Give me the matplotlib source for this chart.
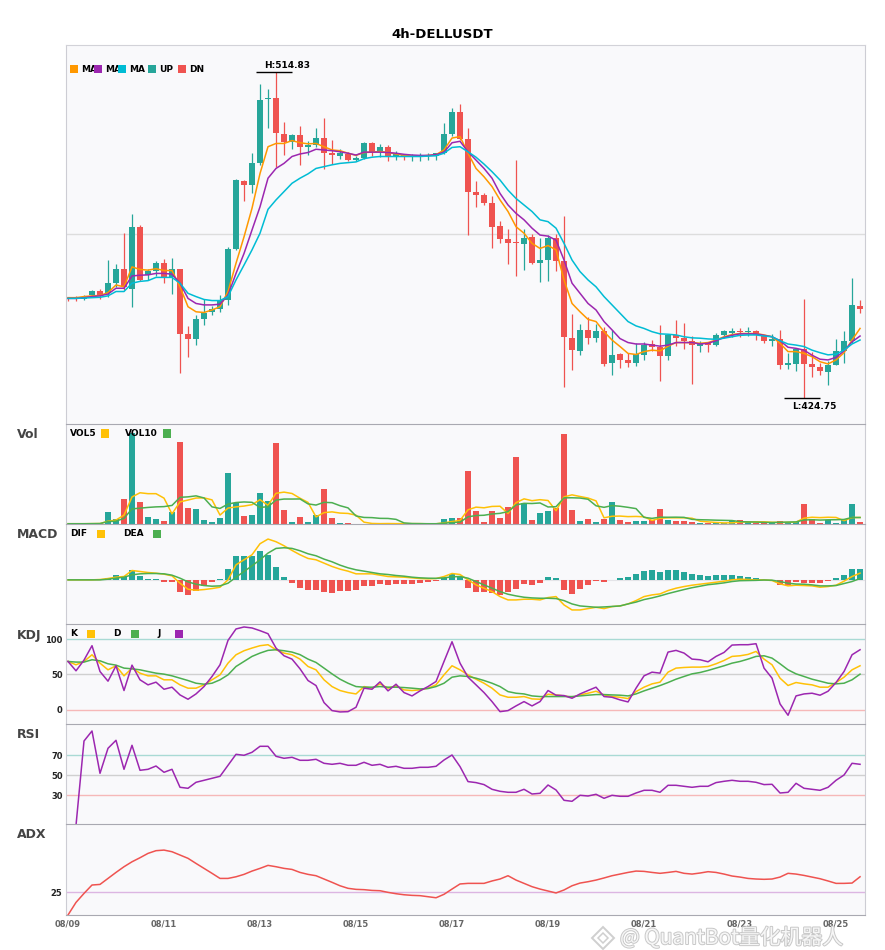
import numpy as np
import matplotlib
matplotlib.use("Agg")
import matplotlib.pyplot as plt
import matplotlib.patheffects as pe
from matplotlib.patches import Rectangle, Polygon
from matplotlib.transforms import Bbox

plt.rcParams['font.family'] = ['DejaVu Sans', 'Noto Sans CJK SC']

# ---- values (4h candles, 08/09 - 08/25) ----
date_labels = ['08/09', '08/11', '08/13', '08/15', '08/17', '08/19', '08/21', '08/23', '08/25']
date_pos = [0, 12, 24, 36, 48, 60, 72, 84, 96]

opens = [452.3, 452.3, 452.1, 453.0, 454.3, 453.6, 456.5, 460.2, 454.9, 472.0,
         458.6, 459.9, 461.9, 458.2, 460.2, 442.4, 441.1, 446.6, 448.4, 449.2,
         451.8, 465.9, 484.7, 483.6, 489.7, 507.2, 507.6, 497.6, 495.4, 497.3,
         494.1, 494.7, 496.5, 492.5, 491.5, 492.1, 490.4, 491.0, 495.2, 492.6,
         493.9, 491.4, 491.7, 491.2, 491.2, 491.4, 491.5, 492.3, 497.6, 503.7,
         496.1, 481.6, 480.9, 478.5, 472.2, 468.5, 467.6, 467.2, 469.1, 462.1,
         462.8, 468.9, 462.4, 441.3, 437.8, 443.6, 441.3, 443.1, 434.4, 436.8,
         435.2, 434.4, 436.6, 439.6, 438.9, 436.3, 442.0, 441.3, 440.3, 439.0,
         439.8, 439.2, 442.0, 442.7, 443.3, 442.9, 443.3, 442.0, 440.5, 441.1,
         433.9, 434.1, 438.1, 434.1, 433.3, 431.9, 433.9, 437.6, 440.5, 450.1]
highs = [452.7, 452.9, 453.0, 454.5, 454.9, 462.8, 461.7, 470.2, 475.5, 472.4,
         460.2, 462.4, 463.0, 463.3, 460.4, 444.6, 447.7, 452.1, 450.1, 453.0,
         466.5, 485.3, 484.9, 492.5, 511.4, 510.1, 514.83, 500.9, 497.6, 499.8,
         495.6, 499.3, 502.0, 496.0, 493.4, 492.6, 491.5, 495.4, 495.3, 494.9,
         494.5, 493.0, 492.1, 492.1, 492.3, 492.3, 492.5, 500.6, 504.8, 505.9,
         499.3, 484.5, 481.2, 480.5, 473.5, 471.3, 490.4, 471.5, 470.0, 468.9,
         469.6, 470.0, 475.0, 447.9, 445.1, 447.1, 445.1, 444.4, 443.5, 437.2,
         437.0, 439.8, 440.1, 440.7, 444.8, 442.4, 446.2, 445.5, 441.8, 440.5,
         440.1, 442.7, 443.6, 444.0, 444.0, 444.2, 443.5, 442.2, 442.5, 443.5,
         437.0, 438.3, 451.9, 437.4, 434.3, 435.0, 440.9, 443.3, 457.8, 451.8]
lows = [451.6, 451.6, 451.8, 452.5, 451.9, 452.5, 455.4, 454.5, 449.7, 457.1,
        457.3, 458.4, 456.5, 453.4, 431.7, 436.1, 439.4, 444.8, 447.5, 448.4,
        450.3, 465.6, 479.0, 481.2, 489.1, 499.3, 488.6, 491.9, 493.4, 489.1,
        491.9, 494.1, 487.9, 489.3, 490.8, 490.1, 490.1, 490.8, 491.4, 491.2,
        490.1, 490.4, 490.3, 490.1, 490.1, 490.4, 490.3, 492.1, 497.1, 496.0,
        469.8, 477.5, 478.1, 466.1, 467.6, 461.7, 458.4, 460.0, 461.7, 456.7,
        457.1, 459.9, 427.8, 432.4, 436.6, 439.6, 440.1, 433.5, 431.1, 433.1,
        433.3, 433.5, 435.2, 437.8, 429.5, 435.2, 439.0, 438.3, 428.5, 437.4,
        437.4, 439.0, 441.6, 441.6, 441.4, 441.8, 440.7, 439.8, 439.0, 432.8,
        432.8, 432.2, 424.75, 430.6, 430.9, 428.4, 433.7, 434.3, 439.8, 448.3]
closes = [452.1, 452.1, 452.7, 454.3, 453.0, 456.4, 460.2, 455.4, 472.0, 457.3,
          459.9, 461.9, 458.2, 460.2, 442.5, 441.1, 446.6, 448.3, 449.4, 451.8,
          465.9, 484.9, 483.6, 489.7, 507.0, 507.6, 497.8, 495.4, 497.3, 494.1,
          494.5, 496.5, 492.5, 491.7, 492.5, 490.4, 491.0, 495.2, 492.6, 493.9,
          491.4, 492.1, 491.2, 491.5, 491.5, 491.9, 492.3, 497.6, 503.7, 496.3,
          481.6, 480.9, 478.6, 472.0, 468.7, 467.6, 467.4, 468.9, 462.1, 462.8,
          468.9, 462.6, 441.4, 437.9, 443.6, 441.3, 443.1, 434.1, 436.5, 435.2,
          434.4, 436.8, 439.2, 438.9, 436.3, 442.2, 441.3, 440.5, 439.2, 439.6,
          439.4, 442.0, 443.3, 443.1, 442.9, 443.3, 442.0, 440.5, 440.9, 433.9,
          434.3, 438.1, 434.1, 433.3, 432.2, 433.9, 437.6, 440.5, 450.3, 449.4]

ma5 = [452.4, 452.4, 452.7, 452.9, 453.0, 453.8, 455.9, 455.4, 460.9, 460.2,
       460.0, 460.4, 459.9, 459.9, 455.4, 449.9, 448.5, 448.3, 449.0, 449.9,
       454.1, 461.9, 469.2, 477.1, 486.7, 494.1, 495.0, 495.0, 495.8, 495.2,
       494.9, 495.0, 494.1, 493.2, 493.0, 492.3, 491.7, 492.5, 492.6, 492.8,
       492.5, 492.1, 491.7, 491.5, 491.5, 491.7, 491.9, 493.2, 496.5, 496.9,
       492.3, 488.1, 485.8, 483.1, 479.4, 476.2, 472.0, 470.2, 467.4, 466.0,
       466.8, 465.6, 457.3, 450.8, 448.5, 446.4, 445.8, 443.0, 440.7, 438.9,
       437.0, 436.7, 437.5, 437.9, 437.7, 439.0, 440.0, 440.0, 440.0, 439.8,
       440.0, 440.7, 441.6, 442.2, 442.5, 442.5, 442.5, 442.1, 441.6, 439.8,
       437.5, 437.5, 437.0, 436.1, 434.7, 434.1, 435.2, 437.2, 440.7, 443.9]
ma7 = [452.2, 452.2, 452.4, 452.7, 452.9, 453.4, 455.0, 455.0, 458.4, 458.6,
       458.7, 459.1, 459.1, 458.9, 456.4, 452.2, 450.8, 450.4, 450.4, 450.6,
       453.1, 459.1, 464.6, 471.1, 477.5, 485.4, 488.1, 489.5, 491.4, 492.1,
       492.5, 493.4, 493.2, 493.0, 492.7, 492.3, 491.8, 492.6, 492.6, 492.6,
       492.5, 492.3, 492.0, 491.8, 491.7, 491.7, 491.9, 492.6, 495.2, 495.6,
       492.7, 490.4, 488.1, 485.4, 481.2, 478.0, 475.7, 473.9, 471.6, 469.7,
       469.4, 468.3, 462.8, 456.4, 453.6, 450.8, 449.0, 445.8, 443.5, 441.1,
       440.0, 439.6, 439.6, 439.3, 439.0, 439.3, 440.0, 440.0, 440.0, 439.6,
       439.8, 440.5, 441.4, 442.0, 442.4, 442.4, 442.4, 442.0, 441.6, 440.5,
       438.7, 438.4, 437.9, 436.5, 435.4, 435.2, 435.9, 437.7, 440.2, 441.8]
ma10 = [452.2, 452.2, 452.3, 452.4, 452.5, 452.9, 454.1, 454.1, 456.4, 456.9,
        457.1, 458.0, 458.0, 458.0, 456.4, 453.6, 452.7, 451.9, 451.6, 451.6,
        452.7, 457.3, 461.4, 465.6, 470.2, 476.8, 479.4, 481.7, 484.0, 485.4,
        486.6, 488.1, 488.6, 489.1, 489.5, 489.7, 489.9, 490.8, 491.2, 491.4,
        491.4, 491.4, 491.4, 491.4, 491.4, 491.5, 491.6, 492.3, 493.9, 494.1,
        492.7, 491.2, 489.3, 487.2, 484.9, 482.1, 479.8, 478.0, 476.2, 473.9,
        473.4, 471.6, 467.4, 462.8, 459.6, 457.3, 455.4, 452.7, 450.4, 448.1,
        445.8, 444.6, 443.9, 443.0, 442.4, 442.3, 442.1, 441.6, 441.3, 441.2,
        441.0, 440.9, 441.2, 441.6, 442.0, 442.1, 442.1, 441.8, 441.6, 440.5,
        439.6, 439.3, 438.9, 437.9, 437.2, 436.6, 436.8, 437.9, 439.6, 440.7]

volumes = [0.3, 0.2, 0.4, 0.5, 1.1, 13.5, 5.9, 27.8, 100.0, 24.5,
           8.1, 5.9, 3.7, 13.5, 90.4, 17.9, 16.8, 4.8, 2.6, 7.0,
           56.4, 23.1, 9.2, 10.2, 34.4, 25.6, 89.3, 15.7, 2.6, 8.1,
           2.6, 10.2, 38.8, 7.0, 1.5, 0.7, 0.4, 0.4, 0.2, 0.2,
           1.1, 0.2, 0.2, 0.2, 0.2, 0.2, 0.2, 5.9, 7.0, 6.2,
           58.6, 14.6, 2.6, 14.6, 7.0, 19.0, 73.9, 23.4, 4.8, 12.4,
           14.6, 17.9, 99.2, 15.7, 3.7, 5.9, 2.6, 5.9, 24.5, 4.8,
           2.6, 3.7, 3.7, 4.8, 16.8, 4.8, 3.7, 3.7, 2.6, 0.7,
           0.7, 0.7, 1.1, 3.3, 4.8, 1.8, 1.1, 1.1, 0.7, 3.7,
           2.6, 2.6, 22.3, 5.9, 1.5, 4.8, 1.5, 4.8, 22.3, 2.6]
vol5 = [0.3, 0.3, 0.3, 0.4, 0.5, 3.1, 4.3, 9.8, 29.7, 34.3,
        33.3, 33.3, 28.4, 11.1, 24.3, 26.3, 28.5, 28.7, 26.5, 9.8,
        17.5, 18.8, 19.7, 21.2, 26.7, 20.5, 33.7, 35.0, 33.5, 28.3,
        23.7, 7.8, 12.5, 13.3, 12.0, 11.6, 9.7, 2.0, 0.6, 0.4,
        0.5, 0.4, 0.4, 0.4, 0.4, 0.2, 0.2, 1.3, 2.7, 3.9,
        15.6, 18.5, 17.8, 19.3, 19.5, 11.6, 23.4, 27.6, 25.6, 26.7,
        25.8, 14.6, 29.8, 32.0, 30.2, 28.5, 25.4, 6.8, 8.5, 8.7,
        8.1, 8.3, 7.9, 3.9, 6.3, 6.8, 6.8, 6.8, 6.3, 3.1,
        2.3, 1.7, 1.2, 1.3, 2.1, 2.3, 2.4, 2.4, 1.9, 1.7,
        1.8, 2.1, 6.4, 7.4, 7.0, 7.4, 7.2, 3.7, 7.0, 7.2]
vol10 = [0.3, 0.3, 0.3, 0.4, 0.5, 2.7, 3.1, 6.2, 16.6, 17.4,
         18.2, 18.8, 19.1, 20.4, 29.3, 29.8, 30.9, 28.6, 18.8, 17.1,
         21.9, 23.6, 24.2, 23.8, 18.2, 19.0, 26.3, 27.4, 27.4, 27.5,
         22.1, 20.8, 23.8, 23.4, 20.1, 17.7, 8.8, 7.2, 7.0, 6.2,
         6.1, 5.1, 1.2, 0.5, 0.4, 0.3, 0.3, 0.9, 1.5, 2.1,
         7.9, 9.3, 9.6, 11.0, 11.7, 13.6, 20.9, 22.7, 22.5, 23.1,
         18.7, 19.0, 28.7, 28.8, 28.5, 27.2, 20.0, 18.3, 20.2, 19.5,
         18.3, 16.9, 7.3, 6.2, 7.5, 7.4, 7.5, 7.3, 5.1, 4.7,
         4.5, 4.2, 4.0, 3.8, 2.6, 2.3, 2.1, 1.8, 1.6, 1.9,
         2.1, 2.3, 4.4, 4.7, 4.3, 4.6, 4.7, 5.0, 7.2, 7.1]

dif = [0.0, 0.0, 0.0, 0.0, 0.1, 0.4, 0.8, 1.0, 2.8, 2.5,
       2.2, 2.0, 1.7, 1.2, -1.0, -2.8, -3.1, -2.9, -2.6, -2.2,
       0.0, 4.5, 6.0, 7.5, 10.8, 12.2, 11.4, 10.2, 8.8, 7.5,
       6.4, 6.0, 5.0, 4.0, 3.2, 2.6, 1.8, 1.8, 1.8, 1.4,
       1.0, 0.9, 0.8, 0.6, 0.4, 0.3, 0.4, 1.0, 1.9, 1.6,
       0.0, -1.5, -2.5, -3.5, -5.0, -6.0, -6.0, -5.8, -5.8, -6.0,
       -5.3, -5.0, -7.5, -9.0, -9.0, -8.6, -8.2, -8.6, -8.0, -7.8,
       -7.2, -6.2, -5.0, -4.5, -4.2, -3.2, -2.5, -2.0, -1.6, -1.3,
       -1.0, -0.7, -0.4, 0.0, 0.2, 0.1, 0.0, 0.0, -0.2, -1.2,
       -1.8, -1.6, -1.7, -1.8, -2.2, -2.0, -1.6, -0.4, 1.0, 2.0]
dea = [0.0, 0.0, 0.0, 0.0, 0.0, 0.2, 0.5, 0.8, 1.5, 1.8,
       1.9, 1.9, 1.8, 1.4, 0.5, -0.6, -1.3, -1.7, -1.9, -1.8,
       -1.0, 0.8, 2.5, 4.2, 6.0, 8.0, 9.4, 9.6, 9.4, 8.7,
       7.8, 7.2, 6.2, 5.4, 4.4, 3.6, 3.0, 2.6, 2.2, 1.8,
       1.6, 1.3, 1.1, 0.8, 0.6, 0.5, 0.45, 0.6, 0.9, 1.0,
       0.5, -0.5, -1.5, -2.5, -3.5, -4.3, -4.8, -5.2, -5.4, -5.5,
       -5.5, -5.6, -6.2, -7.2, -7.8, -8.0, -8.2, -8.1, -7.95, -7.8,
       -7.2, -6.65, -5.9, -5.4, -4.8, -4.1, -3.5, -2.9, -2.35, -1.9,
       -1.45, -1.2, -0.9, -0.5, -0.25, -0.2, -0.15, -0.05, -0.1, -0.5,
       -1.0, -1.25, -1.3, -1.5, -1.8, -1.8, -1.7, -1.1, -0.5, 0.4]
macd_hist = [0.0, 0.0, 0.0, 0.0, 0.0, 0.6, 1.5, 1.0, 3.0, 1.3,
             0.3, 0.3, -0.6, -0.6, -3.6, -4.4, -3.2, -1.8, -0.6, 0.3,
             3.3, 7.2, 7.2, 7.2, 8.7, 7.5, 3.9, 0.9, -0.8, -2.3,
             -3.0, -3.0, -3.6, -3.9, -3.3, -3.3, -3.0, -1.8, -1.8, -1.2,
             -1.5, -1.2, -1.2, -1.2, -0.8, -0.6, -0.3, 0.6, 1.8, 1.3,
             -2.3, -3.5, -3.6, -4.0, -4.4, -3.5, -2.6, -1.2, -1.4, -0.8,
             0.9, 0.6, -2.9, -4.1, -2.6, -1.4, -0.2, -0.5, 0.1, 0.6,
             0.9, 1.8, 2.7, 3.0, 2.4, 3.0, 3.0, 2.4, 1.8, 1.5,
             1.2, 1.5, 1.5, 1.5, 1.2, 0.9, 0.6, 0.1, -0.2, -1.4,
             -1.5, -0.6, -0.9, -0.9, -0.8, -0.3, 0.7, 1.5, 3.3, 3.3]

k_line = [68.4, 63.7, 68.4, 77.8, 66.0, 56.6, 62.3, 48.1, 59.0, 51.9,
          48.1, 48.1, 42.5, 42.5, 35.4, 30.7, 30.7, 35.4, 42.5, 49.5,
          66.0, 77.8, 83.5, 87.3, 90.6, 92.0, 84.9, 80.2, 77.8, 71.7,
          61.3, 56.6, 42.5, 33.0, 27.4, 24.5, 22.6, 33.0, 30.7, 36.8,
          30.7, 34.0, 28.3, 27.4, 28.3, 30.7, 35.4, 49.5, 62.3, 56.6,
          49.5, 43.4, 37.7, 30.7, 21.2, 17.9, 17.9, 18.9, 15.6, 15.1,
          22.2, 21.2, 19.8, 17.9, 21.2, 23.6, 26.4, 21.2, 18.9, 17.9,
          16.0, 25.9, 32.1, 36.8, 39.2, 53.3, 59.0, 59.9, 60.4, 60.4,
          61.3, 65.1, 69.8, 75.5, 76.4, 78.3, 82.5, 71.7, 63.7, 44.8,
          34.5, 38.7, 36.8, 35.4, 32.1, 32.1, 38.7, 46.2, 56.6, 62.3]
d_line = [68.4, 67.5, 67.5, 70.8, 69.3, 65.1, 63.2, 59.0, 58.0, 56.6,
          54.2, 51.9, 50.5, 48.1, 44.8, 41.5, 37.7, 36.3, 37.7, 42.5,
          49.5, 61.3, 68.4, 75.5, 80.2, 84.0, 84.9, 83.5, 81.6, 78.0,
          71.7, 67.0, 59.0, 50.9, 43.4, 37.7, 33.0, 32.1, 32.1, 33.0,
          32.1, 32.1, 31.6, 30.7, 29.7, 30.2, 33.0, 37.7, 46.2, 48.1,
          47.2, 44.8, 41.5, 37.7, 33.0, 25.9, 23.6, 22.6, 19.8, 18.9,
          18.9, 18.9, 18.9, 18.9, 19.8, 20.8, 21.7, 21.7, 21.2, 20.8,
          19.8, 22.6, 26.9, 30.7, 34.4, 38.7, 43.4, 47.2, 50.9, 52.8,
          55.7, 59.0, 62.3, 66.0, 68.4, 71.7, 75.5, 76.4, 73.1, 65.1,
          56.6, 50.9, 47.2, 43.4, 40.6, 37.7, 36.8, 37.7, 42.5, 50.5]
j_line = [68.4, 55.2, 70.3, 90.6, 54.2, 40.6, 62.3, 27.4, 63.2, 42.5,
          35.4, 39.2, 29.2, 32.1, 21.2, 15.1, 22.6, 33.0, 47.2, 63.7,
          98.1, 114.2, 117.0, 115.6, 111.8, 107.5, 87.3, 76.4, 71.7, 58.0,
          41.5, 34.4, 10.4, -0.9, -2.8, -2.4, 3.8, 30.7, 29.2, 39.6,
          26.9, 36.3, 24.5, 19.8, 26.9, 33.0, 40.1, 68.4, 96.2, 66.0,
          46.2, 35.4, 24.5, 11.8, -2.4, -0.9, 5.7, 11.8, 5.7, 11.8,
          27.4, 20.8, 20.3, 16.5, 22.6, 27.4, 32.1, 18.9, 17.9, 14.2,
          11.3, 30.7, 48.1, 53.3, 51.9, 81.6, 84.0, 80.2, 71.7, 70.8,
          67.9, 75.5, 81.1, 91.5, 92.0, 92.0, 93.4, 59.0, 44.8, 8.5,
          -7.5, 19.8, 22.6, 23.6, 20.8, 26.4, 38.7, 54.2, 77.8, 84.9]

rsi = [np.nan, 0.0, 84.3, 94.3, 52.0, 77.0, 85.0, 56.0, 80.0, 55.0,
       56.0, 59.3, 53.0, 56.0, 38.0, 37.0, 43.0, 45.0, 47.0, 49.0,
       60.0, 71.0, 70.0, 73.0, 79.0, 79.0, 69.0, 67.0, 68.0, 65.0,
       65.0, 66.0, 62.0, 61.0, 62.0, 60.0, 60.0, 63.0, 60.0, 61.0,
       58.0, 59.0, 57.0, 57.0, 58.0, 58.0, 59.0, 65.3, 70.3, 58.7,
       43.7, 42.7, 40.7, 36.0, 34.0, 33.0, 33.0, 36.0, 31.3, 32.0,
       40.3, 35.3, 25.0, 24.0, 30.0, 29.3, 31.0, 27.0, 30.0, 29.0,
       29.0, 32.3, 35.0, 35.0, 33.0, 40.0, 40.0, 39.0, 38.0, 39.0,
       39.0, 42.7, 44.0, 45.0, 44.0, 44.0, 43.0, 40.7, 41.0, 32.3,
       33.0, 42.0, 37.0, 36.0, 35.0, 38.0, 45.0, 50.3, 62.0, 61.0]

adx = [9.9, 18.3, 24.3, 29.9, 30.3, 34.3, 38.3, 42.1, 45.4, 48.1,
       51.0, 52.8, 53.2, 52.1, 49.9, 47.7, 44.3, 41.0, 37.7, 34.3,
       34.3, 35.4, 37.0, 39.2, 41.0, 43.0, 42.1, 41.0, 40.3, 38.3,
       37.0, 36.1, 33.9, 31.7, 29.4, 27.7, 27.0, 26.8, 26.3, 26.1,
       25.0, 24.1, 23.4, 23.0, 22.8, 22.1, 21.4, 23.7, 27.2, 30.6,
       31.0, 31.0, 31.0, 32.6, 33.9, 36.1, 33.2, 31.0, 28.8, 27.2,
       25.9, 24.6, 26.6, 29.4, 31.2, 32.1, 33.2, 34.6, 36.1, 37.2,
       38.3, 39.2, 39.0, 38.3, 37.7, 38.3, 39.0, 37.7, 37.2, 37.9,
       38.8, 38.3, 37.2, 35.9, 35.2, 34.3, 33.9, 33.7, 33.9, 35.2,
       37.7, 37.2, 36.3, 35.2, 34.1, 32.6, 31.0, 31.0, 31.2, 35.4]

UP = '#26a69a'
DN = '#ef5350'
ORANGE = '#ff9800'
PURPLE = '#9c27b0'
CYAN = '#00bcd4'
AMBER = '#ffc107'
GREEN = '#4caf50'

W, H = 885, 950
fig = plt.figure(figsize=(W / 100, H / 100), dpi=100)
fig.patch.set_facecolor('white')

x = np.arange(len(closes))
o = np.array(opens)
c = np.array(closes)
bar_colors = np.where(c >= o, UP, DN)


def fx(px):
    return px / W


def fy(py):
    return 1 - py / H


def panel(top, bottom, top_color='#a9a9b1'):
    ax = fig.add_axes([fx(66), fy(bottom), 799 / W, (bottom - top) / H])
    ax.set_facecolor('#f9f9fb')
    ax.set_xlim(-0.25, 99.62)
    ax.set_xticks([])
    ax.set_yticks([])
    for s in ('left', 'right'):
        ax.spines[s].set_color('#cdcdd4')
    ax.spines['top'].set_color(top_color)
    ax.spines['bottom'].set_visible(False)
    return ax


def square(px, py, color):
    fig.add_artist(Rectangle((fx(px), fy(py + 4)), 8 / W, 8 / H, transform=fig.transFigure,
                             facecolor=color, edgecolor='none', zorder=10))


def label(px, py, s, clip_right=None):
    t = fig.text(fx(px), fy(py), s, fontsize=6.5, fontweight='bold', va='center', ha='left', zorder=5)
    if clip_right is not None:
        # the next legend square hides the tail of the name, as in the source chart
        t.set_clip_box(Bbox.from_extents(px - 2, 0, clip_right, H))
        t.set_clip_on(True)
    return t


def side_title(py, s):
    fig.text(fx(17), fy(py), s, fontsize=9, fontweight='bold', color='#444444', va='center')


def level_ticks(ax, levels):
    ax.set_yticks(levels)
    ax.set_yticklabels([str(v) for v in levels], fontsize=6, fontweight='bold', color='#222222')
    ax.tick_params(axis='y', length=0, pad=2.5)


# ---- price panel ----
ax = panel(45, 424, top_color='#d2d2d8')
ax.set_ylim(417.5, 522.2)
ax.axhline(470, color='#dddddd', lw=1, zorder=0)
ax.vlines(x, lows, highs, colors=bar_colors, lw=0.9, zorder=2)
body_low = np.minimum(o, c)
body_h = np.maximum(np.abs(c - o), 0.25)
ax.bar(x, body_h, bottom=body_low, width=0.72, color=bar_colors, linewidth=0, zorder=2)
ax.plot(x, ma5, color=ORANGE, lw=1.1, zorder=3)
ax.plot(x, ma7, color=PURPLE, lw=1.1, zorder=3)
ax.plot(x, ma10, color=CYAN, lw=1.1, zorder=3)

hi = int(np.argmax(highs))
lo = int(np.argmin(lows))
ax.hlines(highs[hi], hi - 2.5, hi + 2, color='black', lw=1, zorder=4)
ax.annotate(f'H:{highs[hi]:.2f}', xy=(hi - 1.5, highs[hi]), xytext=(0, 4.8), textcoords='offset points',
            fontsize=6.5, fontweight='bold', va='center', ha='left')
ax.hlines(lows[lo], lo - 2.5, lo + 2, color='black', lw=1, zorder=4)
ax.annotate(f'L:{lows[lo]:.2f}', xy=(lo - 1.5, lows[lo]), xytext=(0, -6.3), textcoords='offset points',
            fontsize=6.5, fontweight='bold', va='center', ha='left')

legend_x = [70, 94, 118, 148, 178]
legend_names = ['MA5', 'MA7', 'MA10', 'UP', 'DN']
legend_cols = [ORANGE, PURPLE, CYAN, UP, DN]
legend_clip = [95, 119, 146, None, None]
for px, name, col, clip in zip(legend_x, legend_names, legend_cols, legend_clip):
    square(px, 69, col)
    label(px + 11, 69, name, clip_right=clip)

# ---- volume ----
ax = panel(424, 524)
ax.set_ylim(0, 109.8)
ax.bar(x, volumes, width=0.7, color=bar_colors, linewidth=0)
ax.plot(x, vol5, color=AMBER, lw=1.1)
ax.plot(x, vol10, color=GREEN, lw=1.1)
label(70, 433.5, 'VOL5')
square(101, 433.5, AMBER)
label(125, 433.5, 'VOL10')
square(163, 433.5, GREEN)
side_title(434.5, 'Vol')

# ---- MACD ----
ax = panel(524, 624)
ax.set_ylim(-13.2, 16.7)
hist = np.array(macd_hist)
ax.axhline(0, color='#e4e4e8', lw=0.8, zorder=0)
ax.bar(x, hist, width=0.75, color=np.where(hist >= 0, UP, DN), linewidth=0)
ax.plot(x, dif, color=AMBER, lw=1.1)
ax.plot(x, dea, color=GREEN, lw=1.1)
label(70, 533.5, 'DIF')
square(97, 533.5, AMBER)
label(123, 533.5, 'DEA')
square(153, 533.5, GREEN)
side_title(535, 'MACD')

# ---- KDJ ----
ax = panel(624, 724)
ax.set_ylim(-19.8, 121.2)
ax.axhline(100, color='#a9dad4', lw=1, zorder=0)
ax.axhline(50, color='#d0d0d0', lw=1, zorder=0)
ax.axhline(0, color='#f6b8b8', lw=1, zorder=0)
ax.plot(x, k_line, color=AMBER, lw=1.1)
ax.plot(x, d_line, color=GREEN, lw=1.1)
ax.plot(x, j_line, color=PURPLE, lw=1.1)
level_ticks(ax, [0, 50, 100])
label(70, 633.5, 'K')
square(87, 633.5, AMBER)
label(113, 633.5, 'D')
square(131, 633.5, GREEN)
label(157, 633.5, 'J')
square(175, 633.5, PURPLE)
side_title(635, 'KDJ')

# ---- RSI ----
ax = panel(724, 824)
ax.set_ylim(1.3, 101.3)
ax.axhline(70, color='#a9dad4', lw=1, zorder=0)
ax.axhline(50, color='#d0d0d0', lw=1, zorder=0)
ax.axhline(30, color='#f6b8b8', lw=1, zorder=0)
ax.plot(x, rsi, color=PURPLE, lw=1.1, clip_on=False)
level_ticks(ax, [30, 50, 70])
side_title(735, 'RSI')

# ---- ADX ----
ax = panel(824, 915)
ax.set_ylim(9.9, 70.6)
ax.spines['bottom'].set_visible(True)
ax.spines['bottom'].set_color('#a9a9b1')
ax.axhline(25, color='#dcb6e2', lw=1, zorder=0)
ax.plot(x, adx, color=DN, lw=1.1)
level_ticks(ax, [25])
ax.set_xticks(date_pos)
ax.set_xticklabels(date_labels, fontsize=6, fontweight='bold', color='#666666')
ax.tick_params(axis='x', length=0, pad=3)
side_title(835, 'ADX')

fig.text(0.5, fy(34), '4h-DELLUSDT', ha='center', va='center', fontsize=9.5, fontweight='bold')

# watermark, kept just under the date labels
wy = 938
fig.add_artist(Polygon([(fx(603), fy(wy - 11)), (fx(614), fy(wy)), (fx(603), fy(wy + 11)), (fx(592), fy(wy))],
                       closed=True, transform=fig.transFigure, facecolor='none',
                       edgecolor='#cfcfcf', lw=1.4, zorder=20))
fig.add_artist(Polygon([(fx(603), fy(wy - 5)), (fx(608), fy(wy)), (fx(603), fy(wy + 5)), (fx(598), fy(wy))],
                       closed=True, transform=fig.transFigure, facecolor='none',
                       edgecolor='#cfcfcf', lw=1.1, zorder=20))
fig.text(fx(620), fy(wy), '@ QuantBot量化机器人', fontsize=15, color='#f6f6f6', va='center', ha='left',
         family=['Noto Sans CJK SC', 'DejaVu Sans'], zorder=20,
         path_effects=[pe.withStroke(linewidth=1.4, foreground='#c8c8c8')])

fig.savefig('out.png', dpi=100)
